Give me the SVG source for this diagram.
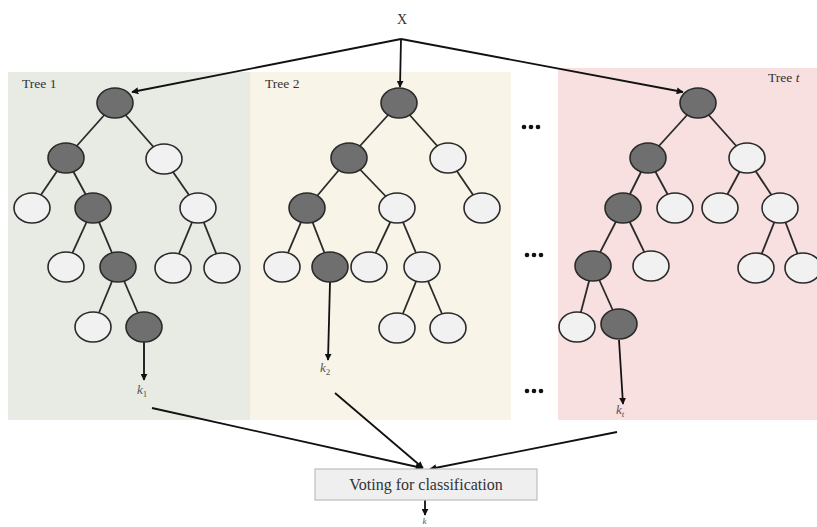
<svg xmlns="http://www.w3.org/2000/svg" width="817" height="527" viewBox="0 0 817 527">
<defs>
<marker id="ah" viewBox="0 0 10 10" refX="9" refY="5" markerWidth="7" markerHeight="7" markerUnits="userSpaceOnUse" orient="auto">
<path d="M0,0 L10,5 L0,10 z" fill="#111"/>
</marker>
<style>
.dk{fill:#6f6f6f;stroke:#2a2a2a;stroke-width:1.6}
.lt{fill:#f1f1f1;stroke:#2a2a2a;stroke-width:1.6}
.e{stroke:#2a2a2a;stroke-width:1.8;fill:none}
.c{stroke:#111;stroke-width:1.8;fill:none;marker-end:url(#ah)}
.lbl{font-family:"Liberation Serif",serif;font-size:13.5px;fill:#333}
.k{font-family:"Liberation Serif",serif;font-style:italic;font-size:13px;fill:#555}
</style>
</defs>
<rect width="817" height="527" fill="#fff"/>
<g id="panels">
<rect x="8" y="72" width="242" height="348" fill="#e8ebe4"/>
<rect x="250" y="72" width="261" height="348" fill="#f8f4e8"/>
<rect x="558" y="68" width="259" height="352" fill="#f8dfe0"/>
</g>
<text x="402" y="24" text-anchor="middle" class="lbl" style="font-size:14px">X</text>
<text x="22" y="88" class="lbl">Tree 1</text>
<text x="265" y="88" class="lbl">Tree 2</text>
<text x="768" y="82" class="lbl">Tree <tspan font-style="italic">t</tspan></text>
<g id="connectors">
<line class="c" x1="401" y1="39" x2="132" y2="92"/>
<line class="c" x1="401" y1="39" x2="400" y2="87"/>
<line class="c" x1="401" y1="39" x2="683" y2="92"/>
<line class="c" x1="144" y1="342" x2="144" y2="380"/>
<line class="c" x1="330" y1="282" x2="328" y2="360"/>
<line class="c" x1="619" y1="340" x2="623" y2="404"/>
<line class="c" x1="152" y1="408" x2="422" y2="468"/>
<line class="c" x1="335" y1="393" x2="423" y2="468"/>
<line class="c" x1="617" y1="432" x2="430" y2="469"/>
<line class="c" x1="425" y1="500" x2="425" y2="515"/>
</g>
<g id="tree1">
<g class="e">
<line x1="115" y1="103" x2="66" y2="158"/><line x1="115" y1="103" x2="164" y2="159"/>
<line x1="66" y1="158" x2="32" y2="208"/><line x1="66" y1="158" x2="93" y2="208"/>
<line x1="164" y1="159" x2="198" y2="208"/>
<line x1="93" y1="208" x2="66" y2="267"/><line x1="93" y1="208" x2="118" y2="267"/>
<line x1="198" y1="208" x2="173" y2="268"/><line x1="198" y1="208" x2="222" y2="268"/>
<line x1="118" y1="267" x2="93" y2="327"/><line x1="118" y1="267" x2="144" y2="327"/>
</g>
<g id="t1-n1"><ellipse class="dk" cx="115" cy="103" rx="18" ry="15"/></g>
<g id="t1-n2"><ellipse class="dk" cx="66" cy="158" rx="18" ry="15"/></g>
<g id="t1-n3"><ellipse class="lt" cx="164" cy="159" rx="18" ry="15"/></g>
<g id="t1-n4"><ellipse class="lt" cx="32" cy="208" rx="18" ry="15"/></g>
<g id="t1-n5"><ellipse class="dk" cx="93" cy="208" rx="18" ry="15"/></g>
<g id="t1-n6"><ellipse class="lt" cx="198" cy="208" rx="18" ry="15"/></g>
<g id="t1-n7"><ellipse class="lt" cx="66" cy="267" rx="18" ry="15"/></g>
<g id="t1-n8"><ellipse class="dk" cx="118" cy="267" rx="18" ry="15"/></g>
<g id="t1-n9"><ellipse class="lt" cx="173" cy="268" rx="18" ry="15"/></g>
<g id="t1-n10"><ellipse class="lt" cx="222" cy="268" rx="18" ry="15"/></g>
<g id="t1-n11"><ellipse class="lt" cx="93" cy="327" rx="18" ry="15"/></g>
<g id="t1-n12"><ellipse class="dk" cx="144" cy="327" rx="18" ry="15"/></g>
<text x="137" y="394" class="k">k<tspan font-size="9" dy="3" font-style="normal">1</tspan></text>
</g>
<g id="tree2">
<g class="e">
<line x1="399" y1="103" x2="349" y2="158"/><line x1="399" y1="103" x2="448" y2="158"/>
<line x1="349" y1="158" x2="307" y2="208"/><line x1="349" y1="158" x2="397" y2="208"/>
<line x1="448" y1="158" x2="482" y2="208"/>
<line x1="307" y1="208" x2="282" y2="267"/><line x1="307" y1="208" x2="330" y2="267"/>
<line x1="397" y1="208" x2="369" y2="267"/><line x1="397" y1="208" x2="422" y2="267"/>
<line x1="422" y1="267" x2="397" y2="328"/><line x1="422" y1="267" x2="448" y2="328"/>
</g>
<g id="t2-n1"><ellipse class="dk" cx="399" cy="103" rx="18" ry="15"/></g>
<g id="t2-n2"><ellipse class="dk" cx="349" cy="158" rx="18" ry="15"/></g>
<g id="t2-n3"><ellipse class="lt" cx="448" cy="158" rx="18" ry="15"/></g>
<g id="t2-n4"><ellipse class="dk" cx="307" cy="208" rx="18" ry="15"/></g>
<g id="t2-n5"><ellipse class="lt" cx="397" cy="208" rx="18" ry="15"/></g>
<g id="t2-n6"><ellipse class="lt" cx="482" cy="208" rx="18" ry="15"/></g>
<g id="t2-n7"><ellipse class="lt" cx="282" cy="267" rx="18" ry="15"/></g>
<g id="t2-n8"><ellipse class="dk" cx="330" cy="267" rx="18" ry="15"/></g>
<g id="t2-n9"><ellipse class="lt" cx="369" cy="267" rx="18" ry="15"/></g>
<g id="t2-n10"><ellipse class="lt" cx="422" cy="267" rx="18" ry="15"/></g>
<g id="t2-n11"><ellipse class="lt" cx="397" cy="328" rx="18" ry="15"/></g>
<g id="t2-n12"><ellipse class="lt" cx="448" cy="328" rx="18" ry="15"/></g>
<text x="320" y="372" class="k">k<tspan font-size="9" dy="3" font-style="normal">2</tspan></text>
</g>
<g id="treet">
<g class="e">
<line x1="698" y1="103" x2="648" y2="158"/><line x1="698" y1="103" x2="747" y2="158"/>
<line x1="648" y1="158" x2="623" y2="208"/><line x1="648" y1="158" x2="675" y2="208"/>
<line x1="747" y1="158" x2="720" y2="208"/><line x1="747" y1="158" x2="780" y2="208"/>
<line x1="623" y1="208" x2="593" y2="266"/><line x1="623" y1="208" x2="651" y2="266"/>
<line x1="780" y1="208" x2="756" y2="268"/><line x1="780" y1="208" x2="803" y2="268"/>
<line x1="593" y1="266" x2="577" y2="327"/><line x1="593" y1="266" x2="619" y2="324"/>
</g>
<g id="tt-n1"><ellipse class="dk" cx="698" cy="103" rx="18" ry="15"/></g>
<g id="tt-n2"><ellipse class="dk" cx="648" cy="158" rx="18" ry="15"/></g>
<g id="tt-n3"><ellipse class="lt" cx="747" cy="158" rx="18" ry="15"/></g>
<g id="tt-n4"><ellipse class="dk" cx="623" cy="208" rx="18" ry="15"/></g>
<g id="tt-n5"><ellipse class="lt" cx="675" cy="208" rx="18" ry="15"/></g>
<g id="tt-n6"><ellipse class="lt" cx="720" cy="208" rx="18" ry="15"/></g>
<g id="tt-n7"><ellipse class="lt" cx="780" cy="208" rx="18" ry="15"/></g>
<g id="tt-n8"><ellipse class="dk" cx="593" cy="266" rx="18" ry="15"/></g>
<g id="tt-n9"><ellipse class="lt" cx="651" cy="266" rx="18" ry="15"/></g>
<g id="tt-n10"><ellipse class="lt" cx="756" cy="268" rx="18" ry="15"/></g>
<g id="tt-n11"><ellipse class="lt" cx="803" cy="268" rx="18" ry="15"/></g>
<g id="tt-n12"><ellipse class="lt" cx="577" cy="327" rx="18" ry="15"/></g>
<g id="tt-n13"><ellipse class="dk" cx="619" cy="324" rx="18" ry="15"/></g>
<text x="616" y="414" class="k">k<tspan font-size="9" dy="3">t</tspan></text>
</g>
<g id="dots">
<circle cx="524" cy="127" r="2.3" fill="#111"/><circle cx="531" cy="127" r="2.3" fill="#111"/><circle cx="538" cy="127" r="2.3" fill="#111"/>
<circle cx="527" cy="255" r="2.3" fill="#111"/><circle cx="534" cy="255" r="2.3" fill="#111"/><circle cx="541" cy="255" r="2.3" fill="#111"/>
<circle cx="527" cy="391" r="2.3" fill="#111"/><circle cx="534" cy="391" r="2.3" fill="#111"/><circle cx="541" cy="391" r="2.3" fill="#111"/>
</g>
<g id="voting">
<rect x="315" y="469" width="222" height="31" fill="#efefef" stroke="#bdbdbd" stroke-width="1.2"/>
<text x="426" y="490" text-anchor="middle" font-family="Liberation Serif, serif" font-size="16" fill="#333">Voting for classification</text>
</g>
<text x="422.5" y="524" class="k" style="font-size:9px">k</text>
</svg>
